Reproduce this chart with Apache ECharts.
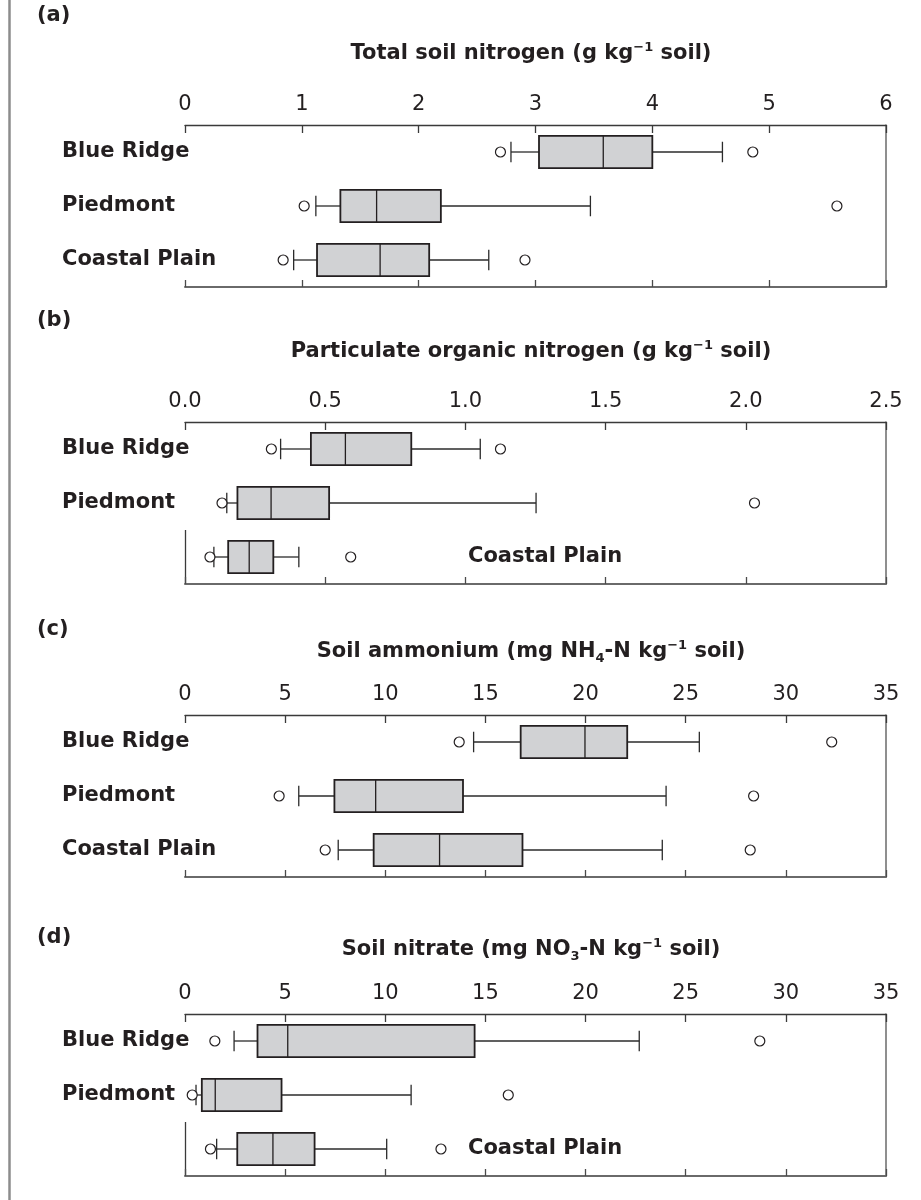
<!DOCTYPE html>
<html><head><meta charset="utf-8">
<script src="https://cdn.jsdelivr.net/npm/echarts@6/dist/echarts.min.js"></script>
<style>html,body{margin:0;padding:0;background:#fff}#c{width:921px;height:1200px}</style>
</head><body><div id="c"></div>
<script>
const categories = ['Blue Ridge', 'Piedmont', 'Coastal Plain'];

// each row: [lower whisker, Q1, median, Q3, upper whisker] for Blue Ridge, Piedmont, Coastal Plain
const totalN_box = [[2.79, 3.03, 3.58, 4.00, 4.60], [1.12, 1.33, 1.64, 2.19, 3.47], [0.93, 1.13, 1.67, 2.09, 2.60]];
const totalN_out = [[2.70, 4.86], [1.02, 5.58], [0.84, 2.91]];

const pon_box = [[0.341, 0.449, 0.572, 0.807, 1.053], [0.149, 0.187, 0.307, 0.514, 1.252], [0.103, 0.154, 0.229, 0.315, 0.406]];
const pon_out = [[0.308, 1.125], [0.132, 2.031], [0.089, 0.591]];

const nh4_box = [[14.41, 16.76, 19.97, 22.08, 25.68], [5.68, 7.46, 9.52, 13.88, 24.02], [7.65, 9.42, 12.71, 16.85, 23.83]];
const nh4_out = [[13.69, 32.29], [4.70, 28.39], [7.00, 28.22]];

const no3_box = [[2.45, 3.62, 5.13, 14.46, 22.68], [0.55, 0.84, 1.51, 4.82, 11.29], [1.58, 2.61, 4.39, 6.47, 10.07]];
const no3_out = [[1.49, 28.70], [0.36, 16.14], [1.27, 12.78]];

const panelLetters = ['(a)', '(b)', '(c)', '(d)'];
const panelTitles = [
  'Total soil nitrogen (g kg{sup|−1} soil)',
  'Particulate organic nitrogen (g kg{sup|−1} soil)',
  'Soil ammonium (mg NH{sub|4}-N kg{sup|−1} soil)',
  'Soil nitrate (mg NO{sub|3}-N kg{sup|−1} soil)'
];
const axisMax = [6, 2.5, 35, 35];
const axisStep = [1, 0.5, 5, 5];
const tickDecimals = [0, 1, 0, 0];
const coastalInside = [false, true, false, true];

const boxes = [totalN_box, pon_box, nh4_box, no3_box];
const outliers = [totalN_out, pon_out, nh4_out, no3_out];

// layout
const gridTops = [125, 422, 715, 1014];
const gridH = 162;
const gridL = 185, gridR = 35;
const labelLeft = 62;
const labelAxisShift = 766;           // category-label axis drawn off to the right, labels reach back to labelLeft
const letterY = [16, 321, 630, 938];
const titleY = [54, 352, 652, 950];

const FONT = '"DejaVu Sans", sans-serif';
const INK = '#231f20';

function renderBox(params, api) {
  const cat = api.value(0);
  const lo = api.coord([api.value(1), cat]);
  const q1 = api.coord([api.value(2), cat]);
  const md = api.coord([api.value(3), cat]);
  const q3 = api.coord([api.value(4), cat]);
  const hi = api.coord([api.value(5), cat]);
  const band = api.size([0, 1])[1];
  const y = lo[1];
  const bh = band * 0.6;
  const cap = band * 0.19;
  const ws = { stroke: '#2b2b2b', lineWidth: 1.3 };
  return {
    type: 'group',
    children: [
      { type: 'line', shape: { x1: lo[0], y1: y, x2: q1[0], y2: y }, style: ws },
      { type: 'line', shape: { x1: q3[0], y1: y, x2: hi[0], y2: y }, style: ws },
      { type: 'line', shape: { x1: lo[0], y1: y - cap, x2: lo[0], y2: y + cap }, style: ws },
      { type: 'line', shape: { x1: hi[0], y1: y - cap, x2: hi[0], y2: y + cap }, style: ws },
      { type: 'rect', shape: { x: q1[0], y: y - bh / 2, width: q3[0] - q1[0], height: bh },
        style: { fill: '#d1d2d4', stroke: INK, lineWidth: 1.8 } },
      { type: 'line', shape: { x1: md[0], y1: y - bh / 2, x2: md[0], y2: y + bh / 2 },
        style: { stroke: INK, lineWidth: 1.3 } }
    ]
  };
}

const grid = [], xAxis = [], yAxis = [], series = [], graphic = [];

graphic.push({ type: 'line', shape: { x1: 9.5, y1: 0, x2: 9.5, y2: 1200 },
  style: { stroke: '#8c8c8c', lineWidth: 2.5 }, silent: true });

for (let i = 0; i < 4; i++) {
  grid.push({ left: gridL, right: gridR, top: gridTops[i], height: gridH, show: false });
  const dec = tickDecimals[i];
  xAxis.push({
    gridIndex: i, type: 'value', position: 'top', min: 0, max: axisMax[i], interval: axisStep[i], z: 6,
    axisLine: { show: true, lineStyle: { color: '#3a3a3a', width: 1.3 } },
    axisTick: { show: true, inside: true, length: 8, lineStyle: { color: '#3a3a3a', width: 1.3 } },
    axisLabel: { margin: 10, fontFamily: FONT, fontSize: 21, color: INK, formatter: v => v.toFixed(dec) },
    splitLine: { show: false }, minorSplitLine: { show: false }
  });
  xAxis.push({
    gridIndex: i, type: 'value', position: 'bottom', min: 0, max: axisMax[i], interval: axisStep[i], z: 6,
    axisLine: { show: true, lineStyle: { color: '#6a6a6a', width: 2 } },
    axisTick: { show: true, inside: true, length: 7, lineStyle: { color: '#4a4a4a', width: 1.3 } },
    axisLabel: { show: false },
    splitLine: { show: false }, minorSplitLine: { show: false }
  });
  const inside = coastalInside[i];
  yAxis.push({
    gridIndex: i, type: 'category', data: categories, inverse: true, z: 4, position: 'left',
    offset: -labelAxisShift,
    axisLine: { show: false, onZero: false, lineStyle: { color: 'rgba(0,0,0,0)', width: 0 } },
    axisTick: { show: false },
    splitLine: { show: false },
    splitArea: { show: false },
    axisLabel: {
      interval: 0, align: 'left', margin: gridL + labelAxisShift - labelLeft,
      formatter: v => (inside && v === 'Coastal Plain') ? '{sp| }{c|' + v + '}' : '{n|' + v + '}',
      rich: {
        n: { fontFamily: FONT, fontWeight: 'bold', fontSize: 21, color: INK, lineHeight: 54 },
        sp: { width: 406, fontSize: 21, lineHeight: 54 },
        c: { fontFamily: FONT, fontWeight: 'bold', fontSize: 21, color: INK, lineHeight: 54 }
      }
    }
  });
  yAxis.push({
    gridIndex: i, type: 'category', data: categories, inverse: true, position: 'right', z: 6,
    axisLine: { show: true, onZero: false, lineStyle: { color: '#6a6a6a', width: 1.5 } },
    axisTick: { show: false }, axisLabel: { show: false }, splitLine: { show: false }, splitArea: { show: false }
  });

  series.push({
    type: 'custom', xAxisIndex: 2 * i, yAxisIndex: 2 * i,
    data: boxes[i].map((b, k) => [k].concat(b)),
    encode: { x: [1, 2, 3, 4, 5], y: 0 },
    renderItem: renderBox, z: 3
  });
  const pts = [];
  outliers[i].forEach((arr, k) => arr.forEach(v => pts.push([v, k])));
  series.push({
    type: 'scatter', xAxisIndex: 2 * i, yAxisIndex: 2 * i, data: pts,
    symbol: 'circle', symbolSize: 10, z: 5,
    itemStyle: { color: '#fff', borderColor: INK, borderWidth: 1.2, opacity: 1 },
    emphasis: { disabled: true }
  });

  // left frame edge only shows in the label-free band
  if (inside) {
    graphic.push({ type: 'line', silent: true, z: 2,
      shape: { x1: gridL + 0.5, y1: gridTops[i] + gridH * 2 / 3, x2: gridL + 0.5, y2: gridTops[i] + gridH },
      style: { stroke: '#3a3a3a', lineWidth: 1.3 } });
  }

  graphic.push({ type: 'text', x: 37, y: letterY[i],
    style: { text: panelLetters[i], fontFamily: FONT, fontWeight: 'bold', fontSize: 21, fill: INK,
             textAlign: 'left', textVerticalAlign: 'middle' } });
  graphic.push({ type: 'text', x: 531, y: titleY[i],
    style: { text: panelTitles[i], fontFamily: FONT, fontWeight: 'bold', fontSize: 21, fill: INK, lineHeight: 26,
             textAlign: 'center', textVerticalAlign: 'middle',
             rich: {
               sup: { fontFamily: FONT, fontWeight: 'bold', fontSize: 13, fill: INK, color: INK, verticalAlign: 'top', lineHeight: 14 },
               sub: { fontFamily: FONT, fontWeight: 'bold', fontSize: 13, fill: INK, color: INK, verticalAlign: 'bottom', lineHeight: 14 }
             } } });
}

const chart = echarts.init(document.getElementById('c'), null, { renderer: 'canvas' });
chart.setOption({ animation: false, backgroundColor: '#fff', grid, xAxis, yAxis, series, graphic });
</script>
</body></html>
